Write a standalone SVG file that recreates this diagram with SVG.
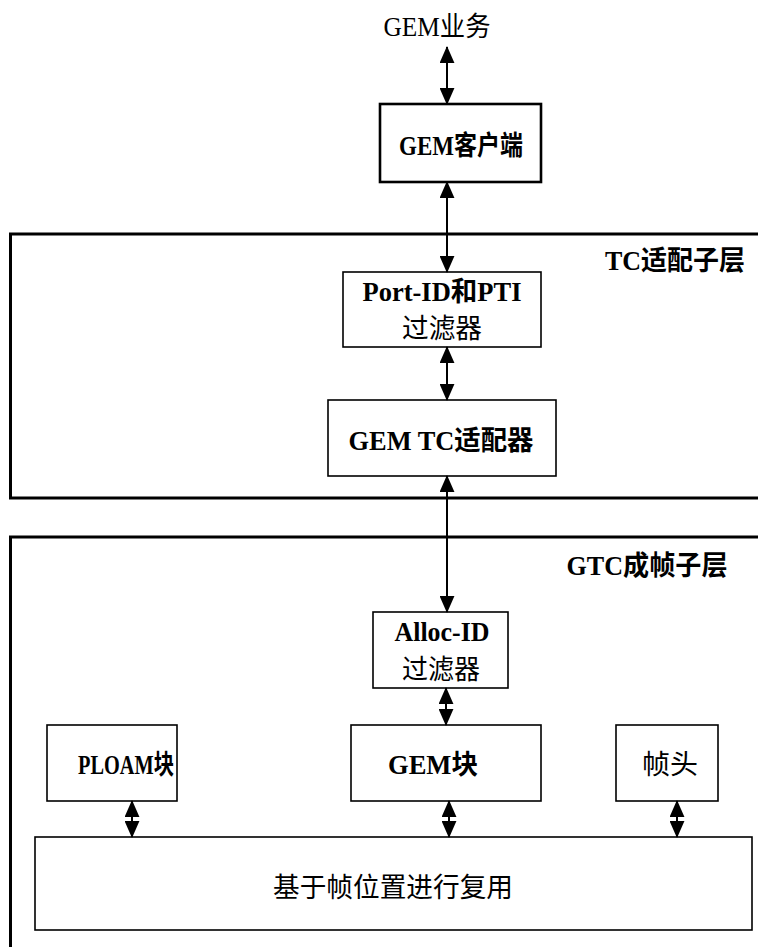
<svg xmlns="http://www.w3.org/2000/svg" width="758" height="947" viewBox="0 0 758 947">
<style>
text{font-family:"Liberation Serif","Noto Sans CJK SC",serif;fill:#000;text-anchor:middle}
.b{font-weight:bold}
.box{fill:#fff;stroke:#000;stroke-width:1.6}
.layer{fill:none;stroke:#000;stroke-width:3}
.c{stroke:#000;stroke-width:2;fill:none;marker-start:url(#ah);marker-end:url(#ah)}
</style>
<defs>
<marker id="ah" viewBox="0 0 16 14" refX="15" refY="7" markerWidth="17" markerHeight="15" markerUnits="userSpaceOnUse" orient="auto-start-reverse">
<path d="M0,0 L16,7 L0,14 z" fill="#000"/>
</marker>
</defs>
<g id="tc-layer">
<rect class="layer" x="10.5" y="234" width="790" height="264"/>
<text class="b" x="675" y="270" font-size="27" textLength="140" lengthAdjust="spacingAndGlyphs">TC适配子层</text>
</g>
<g id="gtc-layer">
<rect class="layer" x="10.5" y="537" width="790" height="450"/>
<text class="b" x="647" y="575" font-size="27" textLength="161" lengthAdjust="spacingAndGlyphs">GTC成帧子层</text>
</g>
<g id="gem-service">
<text x="437" y="36" font-size="27" textLength="107" lengthAdjust="spacingAndGlyphs">GEM业务</text>
</g>
<g id="gem-client">
<rect x="380" y="104" width="161" height="78" fill="#fff" stroke="#000" stroke-width="2.6"/>
<text class="b" x="461" y="155" font-size="27" textLength="124" lengthAdjust="spacingAndGlyphs">GEM客户端</text>
</g>
<g id="portid-filter">
<rect class="box" x="343" y="272" width="198" height="75"/>
<text class="b" x="442" y="301" font-size="27" textLength="159" lengthAdjust="spacingAndGlyphs">Port-ID和PTI</text>
<text x="442" y="338" font-size="27" textLength="80" lengthAdjust="spacingAndGlyphs">过滤器</text>
</g>
<g id="gem-tc-adapter">
<rect class="box" x="328" y="400" width="228" height="76"/>
<text class="b" x="441" y="450" font-size="27" textLength="185" lengthAdjust="spacingAndGlyphs">GEM TC适配器</text>
</g>
<g id="allocid-filter">
<rect class="box" x="373" y="612" width="135" height="76"/>
<text class="b" x="442" y="641" font-size="27" textLength="95" lengthAdjust="spacingAndGlyphs">Alloc-ID</text>
<text x="441" y="679" font-size="27" textLength="78" lengthAdjust="spacingAndGlyphs">过滤器</text>
</g>
<g id="ploam-block">
<rect class="box" x="47" y="725" width="130" height="76"/>
<text class="b" x="126" y="774" font-size="27" textLength="96" lengthAdjust="spacingAndGlyphs">PLOAM块</text>
</g>
<g id="gem-block">
<rect class="box" x="351" y="725" width="190" height="76"/>
<text class="b" x="433" y="774" font-size="27" textLength="90" lengthAdjust="spacingAndGlyphs">GEM块</text>
</g>
<g id="frame-header">
<rect class="box" x="616" y="725" width="102" height="76"/>
<text x="670" y="774" font-size="27" textLength="56" lengthAdjust="spacingAndGlyphs">帧头</text>
</g>
<g id="mux">
<rect class="box" x="35" y="837" width="717" height="93"/>
<text x="393" y="897" font-size="27" textLength="240" lengthAdjust="spacingAndGlyphs">基于帧位置进行复用</text>
</g>
<g id="connectors">
<line class="c" x1="447" y1="47" x2="447" y2="104"/>
<line class="c" x1="447" y1="182" x2="447" y2="272"/>
<line class="c" x1="447" y1="347" x2="447" y2="400"/>
<line class="c" x1="447" y1="476" x2="447" y2="612"/>
<line class="c" x1="446" y1="688" x2="446" y2="725"/>
<line class="c" x1="132" y1="801" x2="132" y2="837"/>
<line class="c" x1="449" y1="801" x2="449" y2="837"/>
<line class="c" x1="677" y1="801" x2="677" y2="837"/>
</g>
</svg>
